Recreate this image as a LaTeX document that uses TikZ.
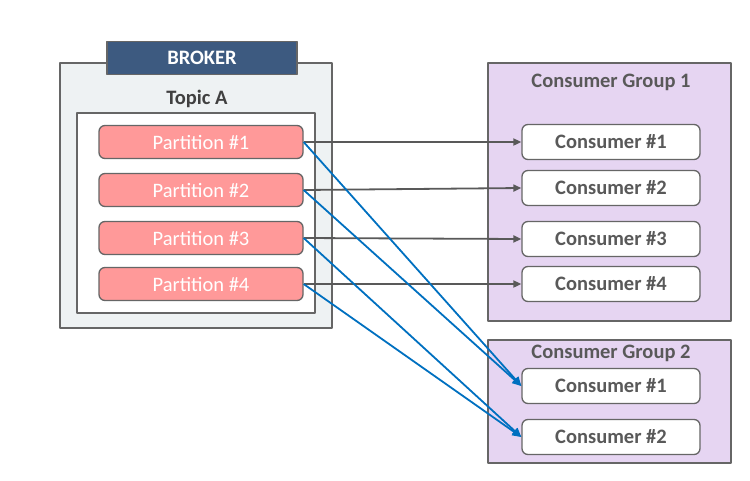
\documentclass[tikz,border=0pt]{standalone}
\usepackage{fontspec}
\setmainfont{Carlito}
\usetikzlibrary{arrows.meta}
\definecolor{brokerfill}{HTML}{EEF2F3}
\definecolor{brokerhead}{HTML}{3D5A80}
\definecolor{partfill}{HTML}{FF9999}
\definecolor{groupfill}{HTML}{E6D5F2}
\definecolor{edgegray}{HTML}{666666}
\definecolor{textgray}{HTML}{595959}
\definecolor{linkblue}{HTML}{0070C0}
\tikzset{
  partbox/.style={draw=edgegray, line width=1.3pt, fill=partfill, rounded corners=6pt,
    minimum width=204pt, minimum height=33pt, text=white, font=\fontsize{20.5}{22}\selectfont},
  consbox/.style={draw=edgegray, line width=1.3pt, fill=white, rounded corners=6pt,
    minimum width=178pt, minimum height=35pt, text=textgray, font=\bfseries\fontsize{20.5}{22}\selectfont},
  grouptitle/.style={text=textgray, font=\bfseries\fontsize{20.5}{22}\selectfont},
  graylink/.style={draw=textgray, line width=1.8pt, -{Triangle[length=8pt,width=7pt]}},
  bluelink/.style={draw=linkblue, line width=1.8pt, -{Triangle[length=9pt,width=8pt]}}
}
\begin{document}
\begin{tikzpicture}[x=1pt, y=-1pt, line join=round]
  \useasboundingbox (0,0) rectangle (750,480);
  % broker and topic
  \draw[edgegray, line width=1.3pt, fill=brokerfill] (60,63) rectangle (332,328);
  \node[draw=edgegray, line width=1.3pt, fill=brokerhead, minimum width=190pt, minimum height=33pt,
    text=white, font=\bfseries\fontsize{20.5}{22}\selectfont] (broker) at (202,58) {BROKER};
  \node[text=black!75, font=\bfseries\fontsize{20.5}{22}\selectfont] (topic) at (197,99) {Topic A};
  \draw[edgegray, line width=1.3pt, fill=white] (77,113) rectangle (315,313);
  \node[partbox] (p1) at (201,142) {Partition \#1};
  \node[partbox] (p2) at (201,190) {Partition \#2};
  \node[partbox] (p3) at (201,238) {Partition \#3};
  \node[partbox] (p4) at (201,284) {Partition \#4};
  % consumer groups
  \draw[edgegray, line width=1.3pt, fill=groupfill] (488,63) rectangle (731,321);
  \node[grouptitle] (g1) at (611,82) {Consumer Group 1};
  \node[consbox] (a1) at (611,142) {Consumer \#1};
  \node[consbox] (a2) at (611,188) {Consumer \#2};
  \node[consbox] (a3) at (611,239) {Consumer \#3};
  \node[consbox] (a4) at (611,284) {Consumer \#4};
  \draw[edgegray, line width=1.3pt, fill=groupfill] (488,340) rectangle (731,463);
  \node[grouptitle] (g2) at (611,353) {Consumer Group 2};
  \node[consbox] (b1) at (611,386) {Consumer \#1};
  \node[consbox] (b2) at (611,437) {Consumer \#2};
  % links
  \draw[graylink] (p1.east) -- (a1.west);
  \draw[graylink] (p2.east) -- (a2.west);
  \draw[graylink] (p3.east) -- (a3.west);
  \draw[graylink] (p4.east) -- (a4.west);
  \draw[bluelink] (p1.east) -- (b1.west);
  \draw[bluelink] (p2.east) -- (b1.west);
  \draw[bluelink] (p3.east) -- (b2.west);
  \draw[bluelink] (p4.east) -- (b2.west);
\end{tikzpicture}
\end{document}
